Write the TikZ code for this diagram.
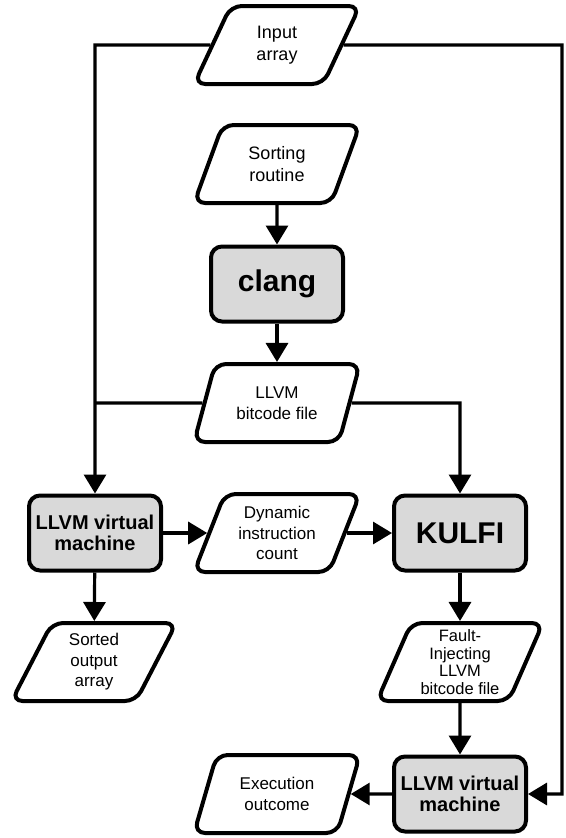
\documentclass[tikz,border=0pt]{standalone}
\usepackage{fontspec}
\setmainfont{Liberation Sans}
\usetikzlibrary{shapes.geometric,arrows.meta}
\definecolor{boxgray}{HTML}{D9D9D9}
\tikzset{
  para/.style={trapezium, trapezium left angle=67, trapezium right angle=113,
    trapezium stretches=true, minimum width=166pt, minimum height=78pt,
    draw, line width=4pt, rounded corners=11pt, fill=white, align=center,
    inner sep=0pt, font=\fontsize{17}{20.5}\selectfont},
  proc/.style={rectangle, draw, line width=4pt, rounded corners=11pt,
    fill=boxgray, align=center, minimum width=132pt, minimum height=75pt,
    inner sep=0pt},
  bigtxt/.style={font=\fontsize{30}{32}\selectfont\bfseries},
  vmtxt/.style={font=\fontsize{20}{21}\selectfont\bfseries},
  conn/.style={line width=3.2pt},
  arr/.style={conn, -{Triangle[length=19pt,width=22pt]}},
}
\begin{document}
\begin{tikzpicture}[x=1pt,y=-1pt]
\useasboundingbox (0,0) rectangle (565,838);
\node[para, font=\fontsize{18}{22}\selectfont] (in) at (277,45) {Input\\array};
\node[para, font=\fontsize{18}{22}\selectfont] (sort) at (277,164) {Sorting\\routine};
\node[proc, bigtxt] (clang) at (277,284) {clang};
\node[para] (bc) at (277,403) {LLVM\\bitcode file};
\node[proc, vmtxt] (vm1) at (95,533) {LLVM virtual\\machine};
\node[para] (dyn) at (277,533) {Dynamic\\instruction\\count};
\node[proc, bigtxt] (kulfi) at (460,533) {KULFI};
\node[para] (out) at (94,662) {Sorted\\output\\array};
\node[para, font=\fontsize{16.5}{17.7}\selectfont] (fi) at (460,662) {Fault-\\Injecting\\LLVM\\bitcode file};
\node[proc, vmtxt] (vm2) at (460,794) {LLVM virtual\\machine};
\node[para] (exec) at (277,794) {Execution\\outcome};
\coordinate (rt) at (562,45);
\draw[arr] (sort) -- (clang);
\draw[arr] (clang) -- (bc);
\draw[arr] (in.west) -- (vm1 |- in) -- (vm1.north);
\draw[arr] (in.east) -- (rt) -- (rt |- vm2) -- (vm2.east);
\draw[conn] (bc.west) -- (vm1 |- bc);
\draw[arr] (bc.east) -- (kulfi |- bc) -- (kulfi.north);
\draw[arr] (vm1) -- (dyn);
\draw[arr] (dyn) -- (kulfi);
\draw[arr] (vm1) -- (out);
\draw[arr] (kulfi) -- (fi);
\draw[arr] (fi) -- (vm2);
\draw[arr] (vm2) -- (exec);
\end{tikzpicture}
\end{document}
